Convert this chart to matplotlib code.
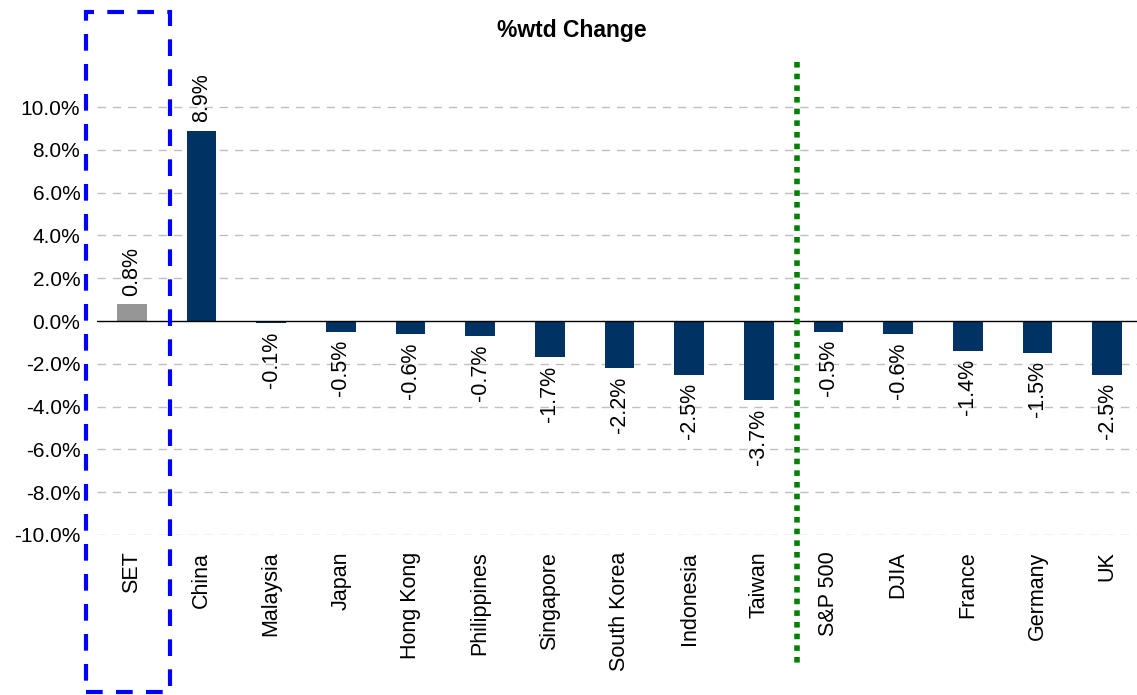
"""
Weekly % change of SET versus regional and global indices.
"""

import matplotlib
matplotlib.use('Agg')
import matplotlib.pyplot as plt
from matplotlib.patches import Rectangle
from matplotlib.lines import Line2D

# Chart data
markets = ['SET', 'China', 'Malaysia', 'Japan', 'Hong Kong', 'Philippines', 'Singapore',
           'South Korea', 'Indonesia', 'Taiwan', 'S&P 500', 'DJIA', 'France', 'Germany', 'UK']
wtd_change = [0.8, 8.9, -0.1, -0.5, -0.6, -0.7, -1.7, -2.2, -2.5, -3.7, -0.5, -0.6, -1.4, -1.5, -2.5]
y_ticks = [-10, -8, -6, -4, -2, 0, 2, 4, 6, 8, 10]


def main():
    plt.rcParams['font.family'] = ['Liberation Sans', 'DejaVu Sans']
    plt.rcParams['font.size'] = 15

    W, H = 1137, 695
    fig = plt.figure(figsize=(W / 100, H / 100), dpi=100)
    # axes placed in pixel terms: left 97, right 1142, top 60, bottom 535
    ax = fig.add_axes([97 / W, (H - 535) / H, (1142 - 97) / W, (535 - 60) / H])

    navy = '#003363'
    grey = '#969696'
    colors = [grey] + [navy] * (len(markets) - 1)
    x = list(range(len(markets)))

    ax.bar(x, wtd_change, width=0.43, color=colors, zorder=3)

    # value labels, rotated
    for xi, v in zip(x, wtd_change):
        if v >= 0:
            ax.annotate(f'{v:.1f}%', (xi, v), xytext=(0, 6), textcoords='offset points',
                        rotation=90, ha='center', va='bottom', fontsize=15.5)
        else:
            ax.annotate(f'{v:.1f}%', (xi, v), xytext=(0, -6), textcoords='offset points',
                        rotation=90, ha='center', va='top', fontsize=15.5)

    ax.set_xlim(-0.5, len(markets) - 0.5)
    ax.set_ylim(-10, 12.2)
    ax.set_yticks(y_ticks)
    ax.set_yticklabels([f'{t:.1f}%' for t in y_ticks], fontsize=15)
    ax.set_xticks(x)
    ax.set_xticklabels(markets, rotation=90, va='top', fontsize=15.5)
    ax.tick_params(axis='x', length=0, pad=12)
    ax.tick_params(axis='y', length=0, pad=12)

    for t in y_ticks:
        if t != 0:
            ax.axhline(t, color='#c0c0c0', linestyle=(0, (6, 5)), linewidth=1, zorder=1)
    ax.axhline(0, color='black', linewidth=1, zorder=4)

    for s in ax.spines.values():
        s.set_visible(False)

    # separator between Asia and US/Europe
    fig.add_artist(Line2D([797 / W, 797 / W], [(H - 62) / H, (H - 665) / H],
                          color='#008000', linewidth=4, linestyle=(0, (1, 1.1))))

    # highlight box around SET
    fig.add_artist(Rectangle((86 / W, (H - 692) / H), (170 - 86) / W, (692 - 12) / H,
                             fill=False, edgecolor='#0000ff', linewidth=3,
                             linestyle=(0, (4, 3.2))))

    fig.text(572 / W, (H - 30) / H, '%wtd Change', ha='center', va='center',
             fontweight='bold', fontsize=16.5)

    fig.savefig('out.png', dpi=100)


if __name__ == "__main__":
    main()
